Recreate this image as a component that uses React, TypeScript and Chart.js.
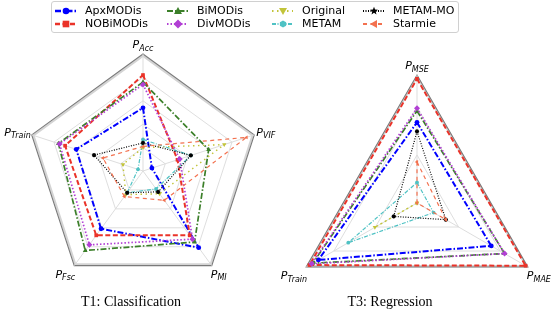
import React, { useEffect, useRef } from 'react';
import { Chart, registerables } from 'chart.js';
Chart.register(...registerables);

// ---------- data ----------
const seriesNames = ['ApxMODis', 'NOBiMODis', 'BiMODis', 'DivMODis', 'Original', 'METAM', 'METAM-MO', 'Starmie'];

// T1: Classification — axes clockwise from top
const t1Labels = ['PAcc', 'PVIF', 'PMI', 'PFsc', 'PTrain'];
const t1ApxMODis = [0.54, 0.08, 0.81, 0.61, 0.60];
const t1NOBiMODis = [0.82, 0.31, 0.68, 0.68, 0.70];
const t1BiMODis = [0.76, 0.59, 0.75, 0.84, 0.76];
const t1DivMODis = [0.74, 0.33, 0.72, 0.78, 0.75];
const t1Original = [0.20, 0.73, 0.24, 0.25, 0.18];
const t1METAM = [0.27, 0.43, 0.19, 0.23, 0.045];
const t1METAMMO = [0.24, 0.43, 0.22, 0.23, 0.44];
const t1Starmie = [0.21, 0.93, 0.31, 0.27, 0.36];
const t1Rings = [0, 0.2, 0.4, 0.6, 0.8, 0.985, 1];

// T3: Regression
const t3Labels = ['PMSE', 'PMAE', 'PTrain'];
const t3ApxMODis = [0.63, 0.67, 0.89];
const t3NOBiMODis = [0.97, 0.98, 0.97];
const t3BiMODis = [0.72, 0.79, 0.94];
const t3DivMODis = [0.74, 0.79, 0.95];
const t3Original = [0.0, 0.0, 0.38];
const t3METAM = [0.16, 0.15, 0.62];
const t3METAMMO = [0.56, 0.26, 0.21];
const t3Starmie = [0.32, 0.26, 0.0];
const t3Rings = [0, 0.375, 0.75, 0.985, 1];

const t1Series = [t1ApxMODis, t1NOBiMODis, t1BiMODis, t1DivMODis, t1Original, t1METAM, t1METAMMO, t1Starmie];
const t3Series = [t3ApxMODis, t3NOBiMODis, t3BiMODis, t3DivMODis, t3Original, t3METAM, t3METAMMO, t3Starmie];

// ---------- styles ----------
type Sty = { color: string; dash: number[]; width: number; shape: string; rot: number; r: number };
const styles: Sty[] = [
  { color: '#0000ff', dash: [6, 2, 1.5, 2], width: 2, shape: 'circle', rot: 0, r: 2.4 },
  { color: '#ea3329', dash: [5, 2.5], width: 2, shape: 'rect', rot: 0, r: 2.6 },
  { color: '#3b7f29', dash: [6, 2, 1.5, 2], width: 1.7, shape: 'triangle', rot: 0, r: 2.8 },
  { color: '#b13fd4', dash: [1.5, 2], width: 1.7, shape: 'rectRot', rot: 0, r: 3 },
  { color: '#c2c43a', dash: [1.5, 3.5], width: 1.4, shape: 'triangle', rot: 180, r: 2.5 },
  { color: '#4fc2c4', dash: [4, 1.5, 1, 1.5], width: 1.2, shape: 'circle', rot: 0, r: 1.9 },
  { color: '#000000', dash: [1, 1.5], width: 1.2, shape: 'star', rot: 0, r: 2.1 },
  { color: '#f3714f', dash: [4, 3.5], width: 1.2, shape: 'triangle', rot: -90, r: 2.3 },
];

const axisLabelPlugin = {
  id: 'axisLabels',
  afterDraw(chart: any) {
    const scale = chart.scales.r;
    const ctx = chart.ctx;
    const labels: string[] = chart.data.labels;
    labels.forEach((lab, i) => {
      const p = scale.getPointPosition(i, scale.drawingArea);
      const c = Math.cos(p.angle);
      const s = Math.sin(p.angle);
      const main = lab.slice(0, 1);
      const sub = lab.slice(1);
      ctx.save();
      ctx.font = 'italic 11px "DejaVu Sans"';
      const wm = ctx.measureText(main).width;
      ctx.font = 'italic 8px "DejaVu Sans"';
      const ws = ctx.measureText(sub).width;
      const w = wm + ws;
      let x0: number;
      if (Math.abs(c) < 0.15) x0 = p.x - w / 2;
      else if (c > 0) x0 = p.x + (s > 0.45 ? -1 : 2);
      else x0 = p.x - w - (s > 0.45 ? -1 : 1);
      let yb: number;
      if (s < -0.6) yb = p.y - 6;
      else if (s > 0.45) yb = p.y + 12;
      else yb = p.y + 1;
      ctx.fillStyle = '#000';
      ctx.textAlign = 'left';
      ctx.textBaseline = 'alphabetic';
      ctx.font = 'italic 11px "DejaVu Sans"';
      ctx.fillText(main, x0, yb);
      ctx.font = 'italic 8px "DejaVu Sans"';
      ctx.fillText(sub, x0 + wm, yb + 2.5);
      ctx.restore();
    });
  },
};

function makeConfig(labels: string[], series: number[][], rings: number[], padding: any) {
  return {
    type: 'radar' as const,
    data: {
      labels,
      datasets: series.map((d, i) => ({
        label: seriesNames[i],
        data: d,
        order: -i,
        borderColor: styles[i].color,
        backgroundColor: 'transparent',
        borderWidth: styles[i].width,
        borderDash: styles[i].dash,
        fill: false,
        tension: 0,
        pointStyle: styles[i].shape,
        pointRotation: styles[i].rot,
        pointRadius: styles[i].r,
        pointBackgroundColor: styles[i].color,
        pointBorderColor: styles[i].color,
        pointBorderWidth: styles[i].shape === 'star' ? 1.2 : 0,
        pointHoverRadius: styles[i].r,
      })),
    },
    options: {
      animation: false,
      responsive: false,
      maintainAspectRatio: false,
      layout: { padding },
      plugins: { legend: { display: false }, tooltip: { enabled: false }, title: { display: false } },
      scales: {
        r: {
          min: 0,
          max: 1,
          ticks: { display: false },
          pointLabels: { display: false },
          afterBuildTicks: (scale: any) => {
            scale.ticks = rings.map((v) => ({ value: v }));
          },
          grid: {
            color: (ctx: any) => {
              const v = rings[ctx.index];
              if (v >= 1) return '#7a7a7a';
              if (v > 0.95) return '#d4d4d4';
              return '#dadada';
            },
            lineWidth: (ctx: any) => {
              const v = rings[ctx.index];
              if (v >= 1) return 1.1;
              if (v > 0.95) return 2.2;
              return 0.9;
            },
          },
          angleLines: { color: '#d9d9d9', lineWidth: 0.9 },
        },
      },
    },
    plugins: [axisLabelPlugin],
  };
}

function RadarCanvas(props: { labels: string[]; series: number[][]; rings: number[]; padding: any; left: number; top: number; width: number; height: number }) {
  const ref = useRef<HTMLCanvasElement>(null);
  useEffect(() => {
    if (!ref.current) return;
    const chart = new Chart(ref.current, makeConfig(props.labels, props.series, props.rings, props.padding) as any);
    return () => chart.destroy();
  }, []);
  return (
    <canvas
      ref={ref}
      width={props.width}
      height={props.height}
      style={{ position: 'absolute', left: props.left, top: props.top, width: props.width, height: props.height }}
    />
  );
}

function Marker({ sty }: { sty: Sty }) {
  const cx = 12, cy = 5;
  const c = sty.color;
  let shape: any = null;
  switch (seriesNames[styles.indexOf(sty)]) {
    case 'ApxMODis':
      shape = <circle cx={cx} cy={cy} r={3.3} fill={c} />;
      break;
    case 'NOBiMODis':
      shape = <rect x={cx - 3.3} y={cy - 3.3} width={6.6} height={6.6} fill={c} />;
      break;
    case 'BiMODis':
      shape = <polygon points={`${cx},${cy - 4} ${cx + 4},${cy + 3} ${cx - 4},${cy + 3}`} fill={c} />;
      break;
    case 'DivMODis':
      shape = <polygon points={`${cx},${cy - 4.5} ${cx + 4.5},${cy} ${cx},${cy + 4.5} ${cx - 4.5},${cy}`} fill={c} />;
      break;
    case 'Original':
      shape = <polygon points={`${cx - 4},${cy - 3} ${cx + 4},${cy - 3} ${cx},${cy + 4}`} fill={c} />;
      break;
    case 'METAM': {
      const pts = [0, 1, 2, 3, 4, 5].map((k) => {
        const a = (Math.PI / 3) * k + Math.PI / 6;
        return `${cx + 3.6 * Math.cos(a)},${cy + 3.6 * Math.sin(a)}`;
      });
      shape = <polygon points={pts.join(' ')} fill={c} />;
      break;
    }
    case 'METAM-MO': {
      const pts: string[] = [];
      for (let k = 0; k < 10; k++) {
        const a = -Math.PI / 2 + (Math.PI / 5) * k;
        const rr = k % 2 === 0 ? 4.2 : 1.8;
        pts.push(`${cx + rr * Math.cos(a)},${cy + rr * Math.sin(a)}`);
      }
      shape = <polygon points={pts.join(' ')} fill={c} />;
      break;
    }
    case 'Starmie':
      shape = <polygon points={`${cx - 4},${cy} ${cx + 3},${cy - 4} ${cx + 3},${cy + 4}`} fill={c} />;
      break;
  }
  return (
    <svg width={24} height={10} style={{ position: 'absolute', left: 0, top: 0 }}>
      <line x1={1} y1={cy} x2={22} y2={cy} stroke={c} strokeWidth={Math.max(2, sty.width + 0.3)} strokeDasharray={sty.dash.join(' ')} />
      {shape}
    </svg>
  );
}

const legendCols = [54, 166, 271, 362];
const legendRows = [5.5, 18.5];

export default function App() {
  return (
    <div style={{ position: 'absolute', left: 0, top: 0, width: 556, height: 322, overflow: 'hidden', background: '#fff' }}>
      <RadarCanvas labels={t1Labels} series={t1Series} rings={t1Rings} padding={{ left: 26, right: 20, top: 54, bottom: 34 }} left={0} top={0} width={280} height={322} />
      <RadarCanvas labels={t3Labels} series={t3Series} rings={t3Rings} padding={{ left: 9, right: 11, top: 75, bottom: 9 }} left={280} top={0} width={276} height={340} />
      <div
        style={{
          position: 'absolute',
          left: 51,
          top: 1,
          width: 406,
          height: 30,
          border: '1px solid #d0d0d0',
          borderRadius: 3,
          background: 'rgba(255,255,255,0.85)',
        }}
      />
      {seriesNames.map((name, i) => {
        const col = Math.floor(i / 2);
        const row = i % 2;
        return (
          <div key={name} style={{ position: 'absolute', left: legendCols[col], top: legendRows[row], height: 12 }}>
            <Marker sty={styles[i]} />
            <span
              style={{
                position: 'absolute',
                left: 31,
                top: -2,
                font: '11px "DejaVu Sans"',
                whiteSpace: 'nowrap',
                color: '#000',
              }}
            >
              {name}
            </span>
          </div>
        );
      })}
      <div style={{ position: 'absolute', left: 0, width: 262, top: 294, textAlign: 'center', font: '14px "Liberation Serif"', color: '#000' }}>
        T1: Classification
      </div>
      <div style={{ position: 'absolute', left: 290, width: 200, top: 294, textAlign: 'center', font: '14px "Liberation Serif"', color: '#000' }}>
        T3: Regression
      </div>
    </div>
  );
}
